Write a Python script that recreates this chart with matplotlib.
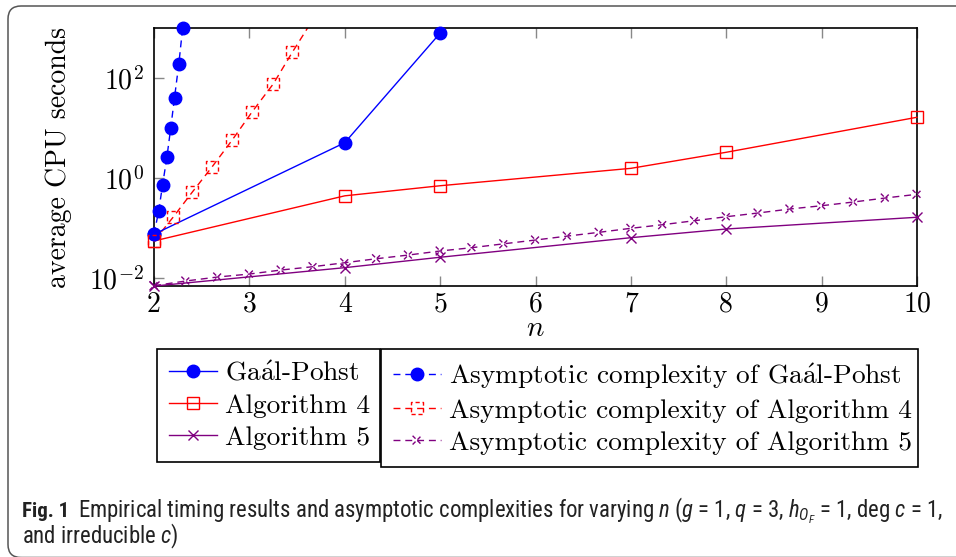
import numpy as np
import matplotlib
matplotlib.use('Agg')
import matplotlib.pyplot as plt
from matplotlib import font_manager
from matplotlib.legend_handler import HandlerTuple
from matplotlib.patches import FancyBboxPatch
from matplotlib.ticker import FixedLocator, NullLocator

avail = {f.name for f in font_manager.fontManager.ttflist}
cap_font = 'Lato'
for cand in ['Liberation Sans Narrow', 'Roboto Condensed', 'Open Sans Condensed', 'Lato']:
    if cand in avail:
        cap_font = cand
        break

plt.rcParams['font.family'] = ['cmr10', 'DejaVu Serif']
plt.rcParams['mathtext.fontset'] = 'cm'
plt.rcParams['axes.formatter.use_mathtext'] = True
plt.rcParams['mathtext.it'] = cap_font + ':italic'
plt.rcParams['mathtext.rm'] = cap_font
plt.rcParams['mathtext.bf'] = cap_font + ':bold'
plt.rcParams['mathtext.sf'] = cap_font

# ---------------- data ----------------
n_gp = [2, 4, 5]
t_gp = [0.075, 5.08, 790]
n_a4 = [2, 4, 5, 7, 8, 10]
t_a4 = [0.055, 0.44, 0.70, 1.56, 3.27, 16.4]
n_a5 = [2, 4, 5, 7, 8, 10]
t_a5 = [0.0069, 0.0161, 0.026, 0.064, 0.0955, 0.164]

n_gp_asym = [2.0, 2.05, 2.09, 2.135, 2.175, 2.215, 2.26, 2.30]
t_gp_asym = [0.0748, 0.222, 0.735, 2.59, 9.86, 40.4, 190, 986]
n_a4_asym = [2.0, 2.2, 2.4, 2.61, 2.82, 3.03, 3.25, 3.45, 3.66]
t_a4_asym = [0.055, 0.164, 0.518, 1.68, 5.75, 21.2, 75.9, 327, 1413]
n_a5_asym = [2, 2.333, 2.667, 3, 3.333, 3.667, 4, 4.333, 4.667, 5, 5.333, 5.667,
             6, 6.333, 6.667, 7, 7.333, 7.667, 8, 8.333, 8.667, 9, 9.333, 9.667, 10]
t_a5_asym = [0.00702, 0.00871, 0.01047, 0.0120, 0.01445, 0.01683, 0.0202, 0.0243,
             0.0288, 0.0347, 0.0404, 0.0483, 0.0575, 0.0689, 0.082, 0.0986, 0.1164,
             0.140, 0.168, 0.1995, 0.240, 0.279, 0.331, 0.398, 0.472]

labels_left = [r'Ga$\acute{\mathrm{a}}$l-Pohst', 'Algorithm 4', 'Algorithm 5']
labels_right = [r'Asymptotic complexity of Ga$\acute{\mathrm{a}}$l-Pohst',
                'Asymptotic complexity of Algorithm 4',
                'Asymptotic complexity of Algorithm 5']
xticks = [2, 3, 4, 5, 6, 7, 8, 9, 10]
yticks = [1e-2, 1e0, 1e2]

BLUE = '#0000ff'
RED = '#ff0000'
VIOLET = '#800080'

W, H = 956, 557
fig = plt.figure(figsize=(W / 100, H / 100), dpi=100)

# outer rounded frame
frame = FancyBboxPatch((0.08, -0.005), 10.0, 5.51 + 0.005, boxstyle='round,pad=0,rounding_size=0.13',
                       transform=fig.dpi_scale_trans, fill=False, edgecolor='#555555', lw=1.1)
fig.patches.append(frame)

ax = fig.add_axes([154 / W, 1 - 286 / H, (917 - 154) / W, (286 - 28) / H])
ax.set_yscale('log')
ax.set_xlim(2, 10)
ylo, yhi = 10 ** -2.16, 10 ** 3.0
ax.set_ylim(ylo, yhi)

FS = 20
LFS = 19.7
lw = 1.0
dash = (0, (5, 3.5))

# solid series
l_gp, = ax.plot(n_gp, t_gp, color=BLUE, lw=lw, marker='o', ms=9, mec=BLUE, mfc=BLUE, clip_on=False, zorder=3)
l_a4, = ax.plot(n_a4, t_a4, color=RED, lw=lw, marker='s', ms=8.5, mec=RED, mfc='none', mew=1.0, clip_on=False, zorder=3)
l_a5, = ax.plot(n_a5, t_a5, color=VIOLET, lw=lw, marker='x', ms=6.5, mec=VIOLET, mew=1.0, clip_on=False, zorder=3)


def asym(xs, ys, color, marker, s, face):
    line, = ax.plot(xs, ys, color=color, lw=lw, ls=dash, zorder=2)
    xs = np.asarray(xs)
    ys = np.asarray(ys)
    m = (ys <= yhi * 1.0001) & (ys >= ylo * 0.9999)
    sc = ax.scatter(xs[m], ys[m], s=s, marker=marker, facecolors=face, edgecolors=color,
                    linewidths=1.0, linestyles=(0, (3, 2)) if face == 'none' or marker == 'x' else 'solid',
                    clip_on=False, zorder=3)
    return line, sc


la_gp = asym(n_gp_asym, t_gp_asym, BLUE, 'o', 81, BLUE)
la_a4 = asym(n_a4_asym, t_a4_asym, RED, 's', 72, 'none')
la_a5 = asym(n_a5_asym, t_a5_asym, VIOLET, 'x', 40, VIOLET)

# axes styling
for sp in ax.spines.values():
    sp.set_linewidth(1.2)
    sp.set_color('black')
ax.xaxis.set_major_locator(FixedLocator(xticks))
ax.yaxis.set_major_locator(FixedLocator(yticks))
ax.yaxis.set_minor_locator(NullLocator())
ax.xaxis.set_minor_locator(NullLocator())
ax.tick_params(axis='x', which='major', direction='in', length=7.5, width=1.0, color='#888888',
               top=True, bottom=True, labelsize=FS, pad=4)
ax.tick_params(axis='y', which='major', direction='in', length=7.5, width=1.0, color='#888888',
               left=True, right=False, labelsize=FS, pad=7)
ax.set_xticklabels([str(v) for v in xticks])

ax.set_xlabel(r'$n$', fontsize=FS + 1)
ax.xaxis.set_label_coords(0.5, -0.115)
ax.set_ylabel('average CPU seconds', fontsize=FS)
ax.yaxis.set_label_coords(-0.107, 0.5)

# legends
common = dict(fontsize=LFS, frameon=True, fancybox=False, framealpha=1, edgecolor='black',
              loc='upper left', mode='expand', borderaxespad=0, handlelength=1.75,
              handletextpad=0.3, labelspacing=0.29, borderpad=0.44, scatteryoffsets=[0.5])
leg1 = fig.legend([l_gp, l_a4, l_a5], labels_left,
                  bbox_to_anchor=(157 / W, 1 - 465 / H, (380 - 157) / W, (465 - 349) / H), **common)
leg1.get_frame().set_linewidth(1.2)
leg2 = fig.legend([la_gp, la_a4, la_a5], labels_right,
                  handler_map={tuple: HandlerTuple(ndivide=1)},
                  bbox_to_anchor=(381 / W, 1 - 465 / H, (918 - 381) / W, (465 - 349) / H), **common)
leg2.get_frame().set_linewidth(1.2)

# caption
cap_color = '#222222'
line1 = (r'Empirical timing results and asymptotic complexities for varying $n$ ($g$ = 1, $q$ = 3, '
         r'$h_{O_F}$ = 1, deg $c$ = 1,')
t1 = fig.text(78 / W, 1 - 517 / H, line1, fontsize=11.5, family=cap_font, color=cap_color,
              va='baseline', ha='left', math_fontfamily='custom')
fig.canvas.draw()
r = fig.canvas.get_renderer()
fs = 11.5 * (945 - 78) / t1.get_window_extent(r).width
t1.set_fontsize(fs)
fig.text(22 / W, 1 - 517 / H, 'Fig. 1', fontsize=fs * 0.92, family=cap_font, weight='bold',
         color=cap_color, va='baseline', ha='left')
fig.text(22 / W, 1 - 543 / H, r'and irreducible $c$)', fontsize=fs, family=cap_font, color=cap_color,
         va='baseline', ha='left', math_fontfamily='custom')

fig.savefig('out.png', dpi=100)
